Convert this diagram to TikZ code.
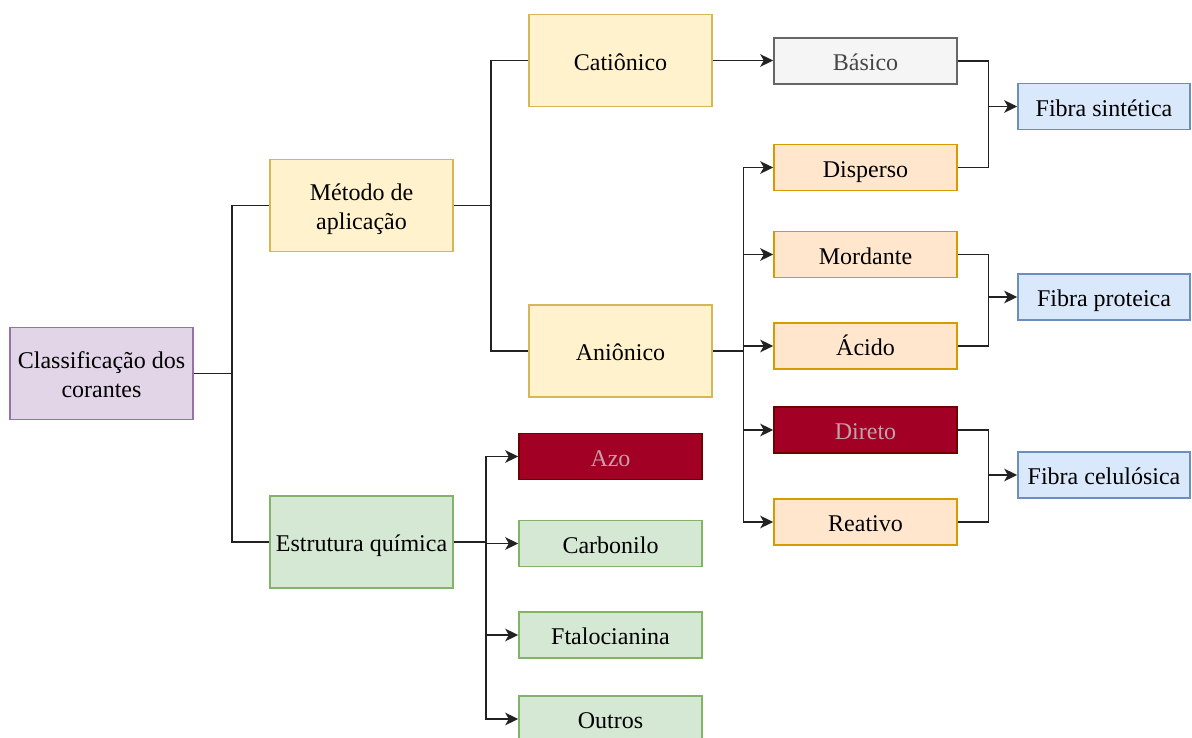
\documentclass[tikz,border=0pt]{standalone}
\usepackage{fontspec}
\setmainfont{Liberation Serif}
\usepackage{xcolor}
\usepackage{tikz}
\usetikzlibrary{arrows.meta,positioning}
\definecolor{LilacFill}{RGB}{225,213,231}
\definecolor{LilacLine}{RGB}{150,115,166}
\definecolor{SandFill}{RGB}{255,242,204}
\definecolor{SandLine}{RGB}{214,182,86}
\definecolor{MintFill}{RGB}{213,232,212}
\definecolor{MintLine}{RGB}{130,179,102}
\definecolor{PeachFill}{RGB}{255,230,204}
\definecolor{PeachLine}{RGB}{215,155,0}
\definecolor{SkyFill}{RGB}{218,232,252}
\definecolor{SkyLine}{RGB}{108,142,191}
\definecolor{AshFill}{RGB}{245,245,245}
\definecolor{AshLine}{RGB}{102,102,102}
\definecolor{AshText}{RGB}{70,70,70}
\definecolor{WineFill}{RGB}{162,0,37}
\definecolor{WineLine}{RGB}{111,0,0}
\definecolor{WineText}{RGB}{196,160,168}
\definecolor{LinkGray}{RGB}{34,34,34}
\newcommand{\lbl}[1]{\begin{tabular}{@{}c@{}}#1\end{tabular}}

\begin{document}
\begin{tikzpicture}[x=1pt, y=-1pt, >={Stealth[length=13pt,width=12.5pt,inset=3.5pt]},
    box/.style={draw, rectangle, line width=1.5pt, inner sep=0pt,
        minimum width=183pt, text height=23pt, text depth=3pt,
        font=\fontsize{24}{28.7}\selectfont},
    bigbox/.style={box, minimum height=92pt},
    smallbox/.style={box, minimum height=46pt},
    lilac/.style={bigbox, fill=LilacFill, draw=LilacLine},
    sand/.style={bigbox, fill=SandFill, draw=SandLine},
    mint/.style={smallbox, fill=MintFill, draw=MintLine},
    peach/.style={smallbox, fill=PeachFill, draw=PeachLine},
    ash/.style={smallbox, fill=AshFill, draw=AshLine, text=AshText},
    wine/.style={smallbox, fill=WineFill, draw=WineLine, text=WineText},
    fibra/.style={smallbox, minimum width=172pt, fill=SkyFill, draw=SkyLine},
    link/.style={draw=LinkGray, line width=1.7pt},
    arr/.style={link, ->}]
    \useasboundingbox (0,0) rectangle (1192,738);

    % Root and first level
    \node [lilac] (clas) at (101.5,373.5) {\lbl{Classificação dos\\corantes}};
    \node [sand] (metodo) at (361.5,205.5) {\lbl{Método de\\aplicação}};
    \node [mint, minimum height=92pt] (estrutura) at (361.5,542) {\lbl{Estrutura química}};

    % Method of application
    \node [sand] (cationico) at (620.5,60.5) {\lbl{Catiônico}};
    \node [sand] (anionico) at (620.5,351) {\lbl{Aniônico}};
    \node [ash] (basico) at (865.5,61) {\lbl{Básico}};
    \node [peach] (disperso) at (865.5,167.5) {\lbl{Disperso}};
    \node [peach] (mordante) at (865.5,254.5) {\lbl{Mordante}};
    \node [peach] (acido) at (865.5,346) {\lbl{Ácido}};
    \node [wine] (direto) at (865.5,430) {\lbl{Direto}};
    \node [peach] (reativo) at (865.5,522) {\lbl{Reativo}};

    % Fibres
    \node [fibra] (fsint) at (1104,106.5) {\lbl{Fibra sintética}};
    \node [fibra] (fprot) at (1104,297) {\lbl{Fibra proteica}};
    \node [fibra] (fcel) at (1104,475) {\lbl{Fibra celulósica}};

    % Chemical structure
    \node [wine] (azo) at (610.5,456.5) {\lbl{Azo}};
    \node [mint] (carbonilo) at (610.5,543.5) {\lbl{Carbonilo}};
    \node [mint] (ftalo) at (610.5,635) {\lbl{Ftalocianina}};
    \node [mint] (outros) at (610.5,719) {\lbl{Outros}};

    % Junctions
    \coordinate (jclas) at (232,373.5);
    \coordinate (jmet) at (491,205.5);
    \coordinate (jani) at (743.5,351);
    \coordinate (jest) at (486,542);
    \coordinate (jsint) at (988.5,106.5);
    \coordinate (jprot) at (988.5,297);
    \coordinate (jcel) at (988.5,475);

    % Connectors
    \draw [link] (clas.east) -- (jclas);
    \draw [link] (jclas) |- (metodo.west);
    \draw [link] (jclas) |- (estrutura.west);
    \draw [link] (metodo.east) -- (jmet);
    \draw [link] (jmet) |- (cationico.west);
    \draw [link] (jmet) |- (anionico.west);
    \draw [arr] (cationico.east) -- (cationico.east -| basico.west);
    \draw [link] (anionico.east) -- (jani);
    \foreach \t in {disperso,mordante,acido,direto,reativo}
        \draw [arr] (jani) |- (\t.west);
    \draw [link] (estrutura.east) -- (jest);
    \foreach \t in {azo,carbonilo,ftalo,outros}
        \draw [arr] (jest) |- (\t.west);

    \draw [link] (basico.east) -| (jsint);
    \draw [link] (disperso.east) -| (jsint);
    \draw [arr] (jsint) -- (fsint.west);
    \draw [link] (mordante.east) -| (jprot);
    \draw [link] (acido.east) -| (jprot);
    \draw [arr] (jprot) -- (fprot.west);
    \draw [link] (direto.east) -| (jcel);
    \draw [link] (reativo.east) -| (jcel);
    \draw [arr] (jcel) -- (fcel.west);
\end{tikzpicture}
\end{document}
